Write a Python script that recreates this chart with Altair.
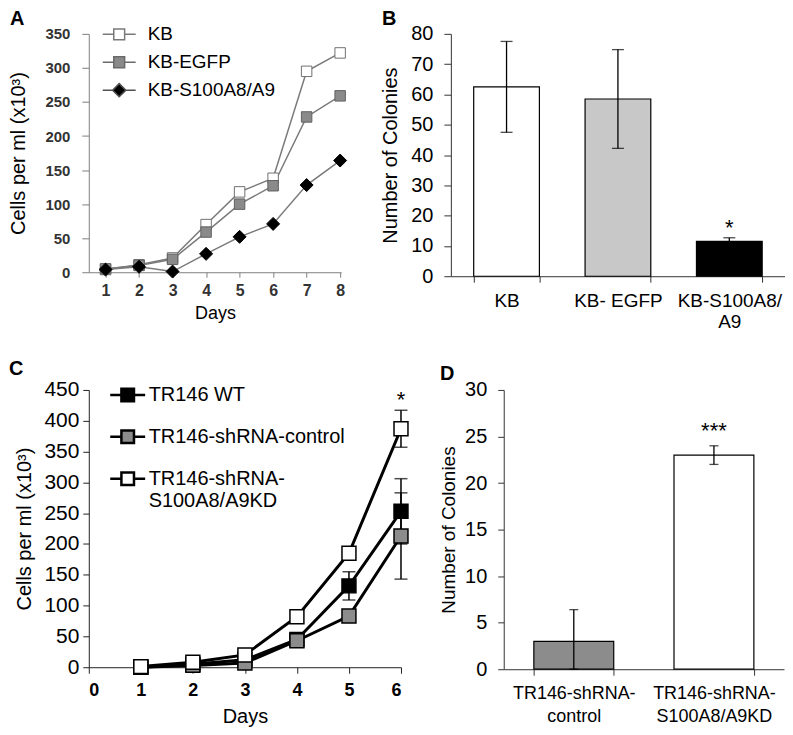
import altair as alt
import pandas as pd

FONT = "Liberation Sans"

# ---------------- Panel A data ----------------
days_a = [1, 2, 3, 4, 5, 6, 7, 8]
series_a = ["KB", "KB-EGFP", "KB-S100A8/A9"]
kb_vals = [4, 11, 21, 70, 118, 138, 295, 322]
egfp_vals = [5, 10, 19, 59, 100, 127, 228, 259]
s100_vals = [4, 8, 1, 27, 52, 71, 128, 164]

# ---------------- Panel B data ----------------
cats_b = ["KB", "KB- EGFP", "KB-S100A8/\nA9"]
colonies_b = [62.5, 58.5, 11.5]
err_b = [15.0, 16.3, 1.2]
sig_b = ["", "", "*"]

# ---------------- Panel C data ----------------
days_c = [1, 2, 3, 4, 5, 6]
series_c = ["TR146 WT", "TR146-shRNA-control", "TR146-shRNA-\nS100A8/A9KD"]
wt_vals = [0, 5, 12, 45, 132, 253]
ctrl_vals = [0, 3, 7, 43, 83, 213]
kd_vals = [1, 8, 20, 82, 185, 387]
wt_err = [0, 0, 0, 0, 23, 53]
ctrl_err = [0, 0, 0, 0, 0, 70]
kd_err = [0, 0, 0, 0, 0, 30]
sig_c = ["", "", "", "", "", "*"]

# ---------------- Panel D data ----------------
cats_d = ["TR146-shRNA-\ncontrol", "TR146-shRNA-\nS100A8/A9KD"]
colonies_d = [3.0, 23.0]
err_d = [3.4, 1.0]
sig_d = ["", "***"]

# ---------------- styles ----------------
style_a = {
    "KB": dict(shape="square", fill="white", stroke="#707070", size=110),
    "KB-EGFP": dict(shape="square", fill="#8a8a8a", stroke="#606060", size=110),
    "KB-S100A8/A9": dict(shape="diamond", fill="black", stroke="black", size=170),
}
fills_b = ["white", "#c8c8c8", "black"]
fill_c = {"TR146 WT": "black", "TR146-shRNA-control": "#8c8c8c",
          "TR146-shRNA-\nS100A8/A9KD": "white"}
fills_d = ["#8c8c8c", "white"]

PATH_SQ_A = "M-1,0H-0.33M0.33,0H1M-0.33,-0.33H0.33V0.33H-0.33Z"
PATH_DI_A = "M-1,0H-0.4M0.4,0H1M0,-0.4L0.4,0L0,0.4L-0.4,0Z"
PATH_SQ_C = "M-1,0H-0.36M0.36,0H1M-0.36,-0.36H0.36V0.36H-0.36Z"

INDEP = dict(fill="independent", stroke="independent", shape="independent")


def letter(ch, dx, dy):
    return alt.Chart(pd.DataFrame({"t": [ch]})).mark_text(
        align="left", baseline="alphabetic", font=FONT, fontSize=20,
        fontWeight="bold", color="black"
    ).encode(text="t:N", x=alt.value(dx), y=alt.value(dy))


# ================= Panel A =================
dfA = pd.DataFrame({
    "day": days_a * 3,
    "value": kb_vals + egfp_vals + s100_vals,
    "series": [s for s in series_a for _ in days_a],
})
scAx = alt.Scale(domain=[0.5, 8.03], nice=False, zero=False)
scAy = alt.Scale(domain=[0, 350], nice=False)
axAx = alt.Axis(values=days_a, title="Days", grid=False, labelOverlap=False,
                domainColor="#808080", tickColor="#808080", tickSize=5,
                labelFontSize=16, labelFontWeight="bold", labelColor="#333333",
                labelPadding=5, titleFontSize=18, titleFontWeight="normal",
                titleColor="black", titlePadding=6)
axAy = alt.Axis(values=list(range(0, 351, 50)), title="Cells per ml (x10³)",
                grid=False, labelOverlap=False, domainColor="#808080",
                tickColor="#808080", tickSize=7, labelFontSize=15,
                labelFontWeight="bold", labelColor="#333333", labelPadding=12,
                titleFontSize=20, titleFontWeight="normal", titleColor="black",
                titlePadding=16)
xA = alt.X("day:Q", scale=scAx, axis=axAx)
yA = alt.Y("value:Q", scale=scAy, axis=axAy)
linesA = alt.Chart(dfA).mark_line(color="#7a7a7a", strokeWidth=1.5).encode(
    x=xA, y=yA, detail="series:N")
ptsA = [
    alt.Chart(dfA).transform_filter(alt.datum.series == s).mark_point(
        filled=True, opacity=1, strokeWidth=1, **style_a[s]
    ).encode(x=xA, y=yA)
    for s in series_a
]
legA = alt.Legend(title=None, orient="none", legendX=13, legendY=-17,
                  symbolSize=1089, symbolStrokeWidth=1.5, labelFont=FONT,
                  labelFontSize=19, labelColor="black", labelOffset=11,
                  labelLimit=300, rowPadding=-2, padding=0)
legendA = alt.Chart(dfA).transform_filter("false").mark_point(
    filled=True, opacity=1, strokeWidth=1.5
).encode(
    x=xA, y=yA,
    shape=alt.Shape("series:N", scale=alt.Scale(domain=series_a,
                    range=[PATH_SQ_A, PATH_SQ_A, PATH_DI_A]), legend=legA),
    fill=alt.Fill("series:N", scale=alt.Scale(domain=series_a,
                  range=[style_a[s]["fill"] for s in series_a]), legend=legA),
    stroke=alt.Stroke("series:N", scale=alt.Scale(domain=series_a,
                      range=["#7a7a7a", "#6a6a6a", "#505050"]), legend=legA),
)
panelA = alt.layer(linesA, *ptsA, legendA, letter("A", -79, -9)).properties(
    width=253, height=239)

# ================= Panel B =================
dfB = pd.DataFrame({"cat": cats_b, "value": colonies_b, "err": err_b, "sig": sig_b})
scBx = alt.Scale(domain=cats_b, paddingInner=0.41, paddingOuter=0.205)
scBy = alt.Scale(domain=[0, 80], nice=False)
axBx = alt.Axis(title=None, labelAngle=0, tickBand="extent",
                labelExpr="split(datum.label, '\\n')", labelFontSize=19,
                labelColor="black", labelPadding=9, labelLineHeight=21,
                tickSize=6, domainColor="#333333", tickColor="#333333")
axBy = alt.Axis(values=list(range(0, 81, 10)), title="Number of Colonies",
                grid=False, labelFontSize=20, labelColor="black", tickSize=7,
                labelPadding=11, titleFontSize=20, titleFontWeight="normal",
                titleColor="black", titlePadding=10,
                domainColor="#333333", tickColor="#333333")
xB = alt.X("cat:N", sort=cats_b, scale=scBx, axis=axBx)
baseB = alt.Chart(dfB).transform_calculate(
    lo="max(0, datum.value - datum.err)", hi="datum.value + datum.err")
barsB = baseB.mark_bar(stroke="black", strokeWidth=1.2).encode(
    x=xB, y=alt.Y("value:Q", scale=scBy, axis=axBy),
    fill=alt.Fill("cat:N", scale=alt.Scale(domain=cats_b, range=fills_b), legend=None))
errB = baseB.mark_rule(color="black", strokeWidth=1.3).encode(
    x=xB, y=alt.Y("lo:Q", scale=scBy, axis=axBy), y2="hi:Q")
capHiB = baseB.mark_tick(color="black", size=12, thickness=1.3).encode(
    x=xB, y=alt.Y("hi:Q", scale=scBy, axis=axBy))
capLoB = baseB.mark_tick(color="black", size=12, thickness=1.3).encode(
    x=xB, y=alt.Y("lo:Q", scale=scBy, axis=axBy))
sigB = baseB.transform_filter(alt.datum.sig != "").mark_text(
    font=FONT, fontSize=22, baseline="alphabetic", dy=-3, color="black").encode(
    x=xB, y=alt.Y("hi:Q", scale=scBy, axis=axBy), text="sig:N")
panelB = alt.layer(barsB, errB, capHiB, capLoB, sigB, letter("B", -69, -9)).properties(
    width=335, height=243)

# ================= Panel C =================
dfC = pd.DataFrame({
    "day": days_c * 3,
    "value": wt_vals + ctrl_vals + kd_vals,
    "err": wt_err + ctrl_err + kd_err,
    "sig": [""] * 12 + sig_c,
    "series": [s for s in series_c for _ in days_c],
})
scCx = alt.Scale(domain=[0, 6], nice=False)
scCy = alt.Scale(domain=[0, 450], nice=False)
axCx = alt.Axis(values=[0, 1, 2, 3, 4, 5, 6], title="Days", grid=False,
                labelOverlap=False, tickSize=6, labelFontSize=18,
                labelFontWeight="bold", labelColor="black", labelPadding=8,
                titleFontSize=20, titleFontWeight="normal", titleColor="black",
                titlePadding=7, domainColor="#222222", tickColor="#222222")
axCy = alt.Axis(values=list(range(0, 451, 50)), title="Cells per ml (x10³)",
                grid=False, labelOverlap=False, tickSize=6, labelFontSize=21,
                labelColor="black", labelPadding=4, titleFontSize=20,
                titleFontWeight="normal", titleColor="black", titlePadding=9,
                domainColor="#222222", tickColor="#222222")
xC = alt.X("day:Q", scale=scCx, axis=axCx)
yC = alt.Y("value:Q", scale=scCy, axis=axCy)
linesC = alt.Chart(dfC).mark_line(color="black", strokeWidth=3).encode(
    x=xC, y=yC, detail="series:N")
baseErrC = alt.Chart(dfC).transform_filter(alt.datum.err > 0).transform_calculate(
    lo="datum.value - datum.err", hi="datum.value + datum.err")
errC = baseErrC.mark_rule(color="black", strokeWidth=1.5).encode(
    x=xC, y=alt.Y("lo:Q", scale=scCy, axis=axCy), y2="hi:Q")
capHiC = baseErrC.mark_tick(orient="horizontal", color="black", size=13,
                            thickness=1.5).encode(
    x=xC, y=alt.Y("hi:Q", scale=scCy, axis=axCy))
capLoC = baseErrC.mark_tick(orient="horizontal", color="black", size=13,
                            thickness=1.5).encode(
    x=xC, y=alt.Y("lo:Q", scale=scCy, axis=axCy))
ptsC = [
    alt.Chart(dfC).transform_filter(alt.datum.series == s).mark_point(
        shape="square", filled=True, opacity=1, fill=fill_c[s], stroke="black",
        strokeWidth=1.5, size=196
    ).encode(x=xC, y=yC)
    for s in series_c
]
sigC = baseErrC.transform_filter(alt.datum.sig != "").mark_text(
    font=FONT, fontSize=22, baseline="alphabetic", dy=-3, color="black"
).encode(x=xC, y=alt.Y("hi:Q", scale=scCy, axis=axCy), text="sig:N")
legC = alt.Legend(title=None, orient="none", legendX=20, legendY=-14,
                  symbolSize=1225, symbolStrokeWidth=2.5, labelFont=FONT,
                  labelFontSize=20, labelColor="black", labelOffset=2,
                  labelLimit=300, labelExpr="split(datum.label, '\\n')",
                  rowPadding=11, padding=0)
legendC = alt.Chart(dfC).transform_filter("false").mark_point(
    filled=True, opacity=1, strokeWidth=2.5
).encode(
    x=xC, y=yC,
    shape=alt.Shape("series:N", scale=alt.Scale(domain=series_c,
                    range=[PATH_SQ_C] * 3), legend=legC),
    fill=alt.Fill("series:N", scale=alt.Scale(domain=series_c,
                  range=[fill_c[s] for s in series_c]), legend=legC),
    stroke=alt.Stroke("series:N", scale=alt.Scale(domain=series_c,
                      range=["black"] * 3), legend=legC),
)
panelC = alt.layer(linesC, errC, capHiC, capLoC, *ptsC, sigC, legendC,
                   letter("C", -80, -15)).properties(width=313, height=278)

# ================= Panel D =================
dfD = pd.DataFrame({"cat": cats_d, "value": colonies_d, "err": err_d, "sig": sig_d})
scDx = alt.Scale(domain=cats_d, paddingInner=0.43, paddingOuter=0.215)
scDy = alt.Scale(domain=[0, 30], nice=False)
axDx = alt.Axis(title=None, labelAngle=0, tickBand="extent",
                labelExpr="split(datum.label, '\\n')", labelFontSize=18,
                labelColor="black", labelPadding=9, labelLineHeight=23,
                tickSize=6, domainColor="#333333", tickColor="#333333")
axDy = alt.Axis(values=list(range(0, 31, 5)), title="Number of Colonies",
                grid=False, labelFontSize=20, labelColor="black", tickSize=6,
                labelPadding=11, titleFontSize=19, titleFontWeight="normal",
                titleColor="black", titlePadding=6,
                domainColor="#333333", tickColor="#333333")
xD = alt.X("cat:N", sort=cats_d, scale=scDx, axis=axDx)
baseD = alt.Chart(dfD).transform_calculate(
    lo="max(0, datum.value - datum.err)", hi="datum.value + datum.err")
barsD = baseD.mark_bar(stroke="black", strokeWidth=1.2).encode(
    x=xD, y=alt.Y("value:Q", scale=scDy, axis=axDy),
    fill=alt.Fill("cat:N", scale=alt.Scale(domain=cats_d, range=fills_d), legend=None))
errD = baseD.mark_rule(color="black", strokeWidth=1.3).encode(
    x=xD, y=alt.Y("lo:Q", scale=scDy, axis=axDy), y2="hi:Q")
capHiD = baseD.mark_tick(color="black", size=9, thickness=1.3).encode(
    x=xD, y=alt.Y("hi:Q", scale=scDy, axis=axDy))
capLoD = baseD.mark_tick(color="black", size=9, thickness=1.3).encode(
    x=xD, y=alt.Y("lo:Q", scale=scDy, axis=axDy))
sigD = baseD.transform_filter(alt.datum.sig != "").mark_text(
    font=FONT, fontSize=22, baseline="alphabetic", dy=-8, color="black").encode(
    x=xD, y=alt.Y("hi:Q", scale=scDy, axis=axDy), text="sig:N")
panelD = alt.layer(barsD, errD, capHiD, capLoD, sigD, letter("D", -64, -10)).properties(
    width=281, height=280)

top = alt.hconcat(panelA, panelB, spacing=110, bounds="flush").resolve_scale(**INDEP)
bottom = alt.hconcat(panelC, panelD, spacing=103, bounds="flush").resolve_scale(**INDEP)

chart = alt.vconcat(top, bottom, spacing=28).resolve_scale(**INDEP).properties(
    padding=0
).configure(font=FONT).configure_view(stroke=None).configure_axis(
    labelFont=FONT, titleFont=FONT
).configure_legend(labelFont=FONT)

chart.save("out.html", embed_options={"renderer": "svg", "actions": False})
